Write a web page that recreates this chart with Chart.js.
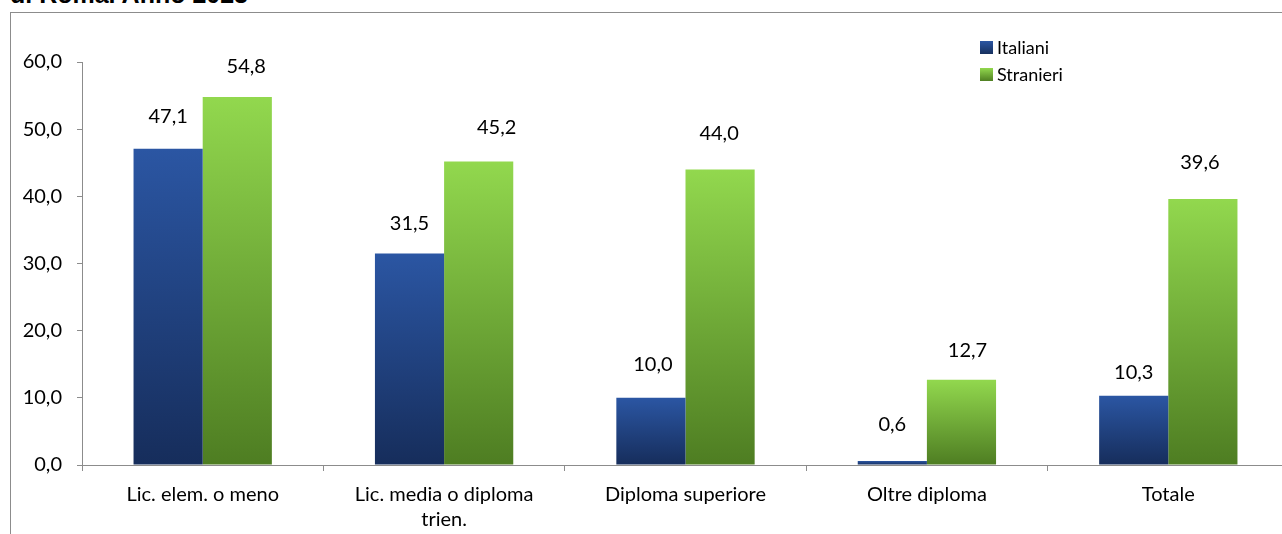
<!DOCTYPE html>
<html>
<head>
<meta charset="utf-8">
<script src="https://cdn.jsdelivr.net/npm/chart.js@4.4.1/dist/chart.umd.min.js"></script>
<style>
  html, body { margin: 0; padding: 0; background: #fff; overflow: hidden; width: 1282px; height: 534px; }
  #title { position: absolute; left: 10px; top: -20px; font: bold 25px "Liberation Sans", Arial, sans-serif; color: #000; white-space: nowrap; }
  #frame { position: absolute; left: 10px; top: 12px; width: 1300px; height: 540px; border: 1px solid #8c8c8c; }
  #wrap { position: absolute; left: 0; top: 0; width: 1300px; height: 540px; }
</style>
</head>
<body>
<div id="title">di Roma. Anno 2023</div>
<div id="frame"><div id="wrap"><canvas id="chart"></canvas></div></div>
<script>
const categories = ['Lic. elem. o meno', ['Lic. media o diploma', 'trien.'], 'Diploma superiore', 'Oltre diploma', 'Totale'];
const italiani = [47.1, 31.5, 10.0, 0.6, 10.3];
const stranieri = [54.8, 45.2, 44.0, 12.7, 39.6];
const yTicks = [0, 10, 20, 30, 40, 50, 60];
// label placement tweaks (px): lift above the bar top, shift sideways
const liftIt = [32, 30, 33, 36, 23];
const liftSt = [30, 34, 36, 29, 36];
const shiftIt = [0, 0, 2, 0, 0];
const shiftSt = [9, 18, -1, 6, -3];

const FONT = 'Lato, "Open Sans", sans-serif';
const fmt = v => v.toFixed(1).replace('.', ',');

function barGradient(top, bottom) {
  return function(ctx) {
    const chart = ctx.chart;
    const area = chart.chartArea;
    if (!area || ctx.type !== 'data') return top;
    const y = chart.scales.y;
    const y0 = y.getPixelForValue(0);
    const y1 = y.getPixelForValue(ctx.raw);
    const g = chart.ctx.createLinearGradient(0, y1, 0, y0);
    g.addColorStop(0, top);
    g.addColorStop(1, bottom);
    return g;
  };
}

const labelPlugin = {
  id: 'barLabels',
  afterDatasetsDraw(chart) {
    const c = chart.ctx;
    c.save();
    c.font = '20px ' + FONT;
    c.fillStyle = '#000';
    c.textAlign = 'center';
    c.textBaseline = 'middle';
    chart.data.datasets.forEach((ds, i) => {
      const lifts = i === 0 ? liftIt : liftSt;
      const shifts = i === 0 ? shiftIt : shiftSt;
      chart.getDatasetMeta(i).data.forEach((bar, j) => {
        c.fillText(fmt(ds.data[j]), bar.x + shifts[j], bar.y - lifts[j]);
      });
    });
    c.restore();
  }
};

const legendPlugin = {
  id: 'boxLegend',
  afterDraw(chart) {
    const c = chart.ctx;
    c.save();
    c.font = '18px ' + FONT;
    c.textBaseline = 'middle';
    const items = [
      { text: 'Italiani', top: '#2b56a3', bottom: '#17305e' },
      { text: 'Stranieri', top: '#92d84e', bottom: '#4f7f22' }
    ];
    items.forEach((it, k) => {
      const x = 969, y = 28 + k * 27;
      const g = c.createLinearGradient(0, y, 0, y + 13);
      g.addColorStop(0, it.top);
      g.addColorStop(1, it.bottom);
      c.fillStyle = g;
      c.fillRect(x, y, 13, 13);
      c.fillStyle = '#000';
      c.fillText(it.text, x + 17, y + 7);
    });
    c.restore();
  }
};

const data = {
  labels: categories,
  datasets: [{
    label: 'Italiani',
    data: italiani,
    backgroundColor: barGradient('#2b56a3', '#162d5b'),
    borderWidth: 0,
    barPercentage: 1,
    categoryPercentage: 0.573
  }, {
    label: 'Stranieri',
    data: stranieri,
    backgroundColor: barGradient('#92d84e', '#4e7d22'),
    borderWidth: 0,
    barPercentage: 1,
    categoryPercentage: 0.573
  }]
};

const config = {
  type: 'bar',
  data: data,
  options: {
    responsive: true,
    maintainAspectRatio: false,
    animation: false,
    layout: { padding: { top: 49, right: 22, left: 0, bottom: 0 } },
    plugins: { legend: { display: false }, tooltip: { enabled: false } },
    scales: {
      x: {
        offset: true,
        grid: { offset: true, drawOnChartArea: false, drawTicks: true, tickLength: 6, color: '#8c8c8c' },
        border: { color: '#8c8c8c' },
        ticks: { color: '#000', font: { family: FONT, size: 20, lineHeight: 1.25 }, padding: 11, maxRotation: 0, autoSkip: false },
        afterFit(s) { s.height = 88; }
      },
      y: {
        min: 0, max: 60,
        afterBuildTicks(s) { s.ticks = yTicks.map(v => ({ value: v })); },
        grid: { drawOnChartArea: false, drawTicks: true, tickLength: 5, color: '#8c8c8c' },
        border: { color: '#8c8c8c' },
        ticks: { color: '#000', font: { family: FONT, size: 20 }, padding: 15, callback: v => fmt(v) },
        afterFit(s) { s.width = 71; }
      }
    }
  },
  plugins: [labelPlugin, legendPlugin]
};

window.mainChart = new Chart(document.getElementById('chart'), config);
</script>
</body>
</html>
